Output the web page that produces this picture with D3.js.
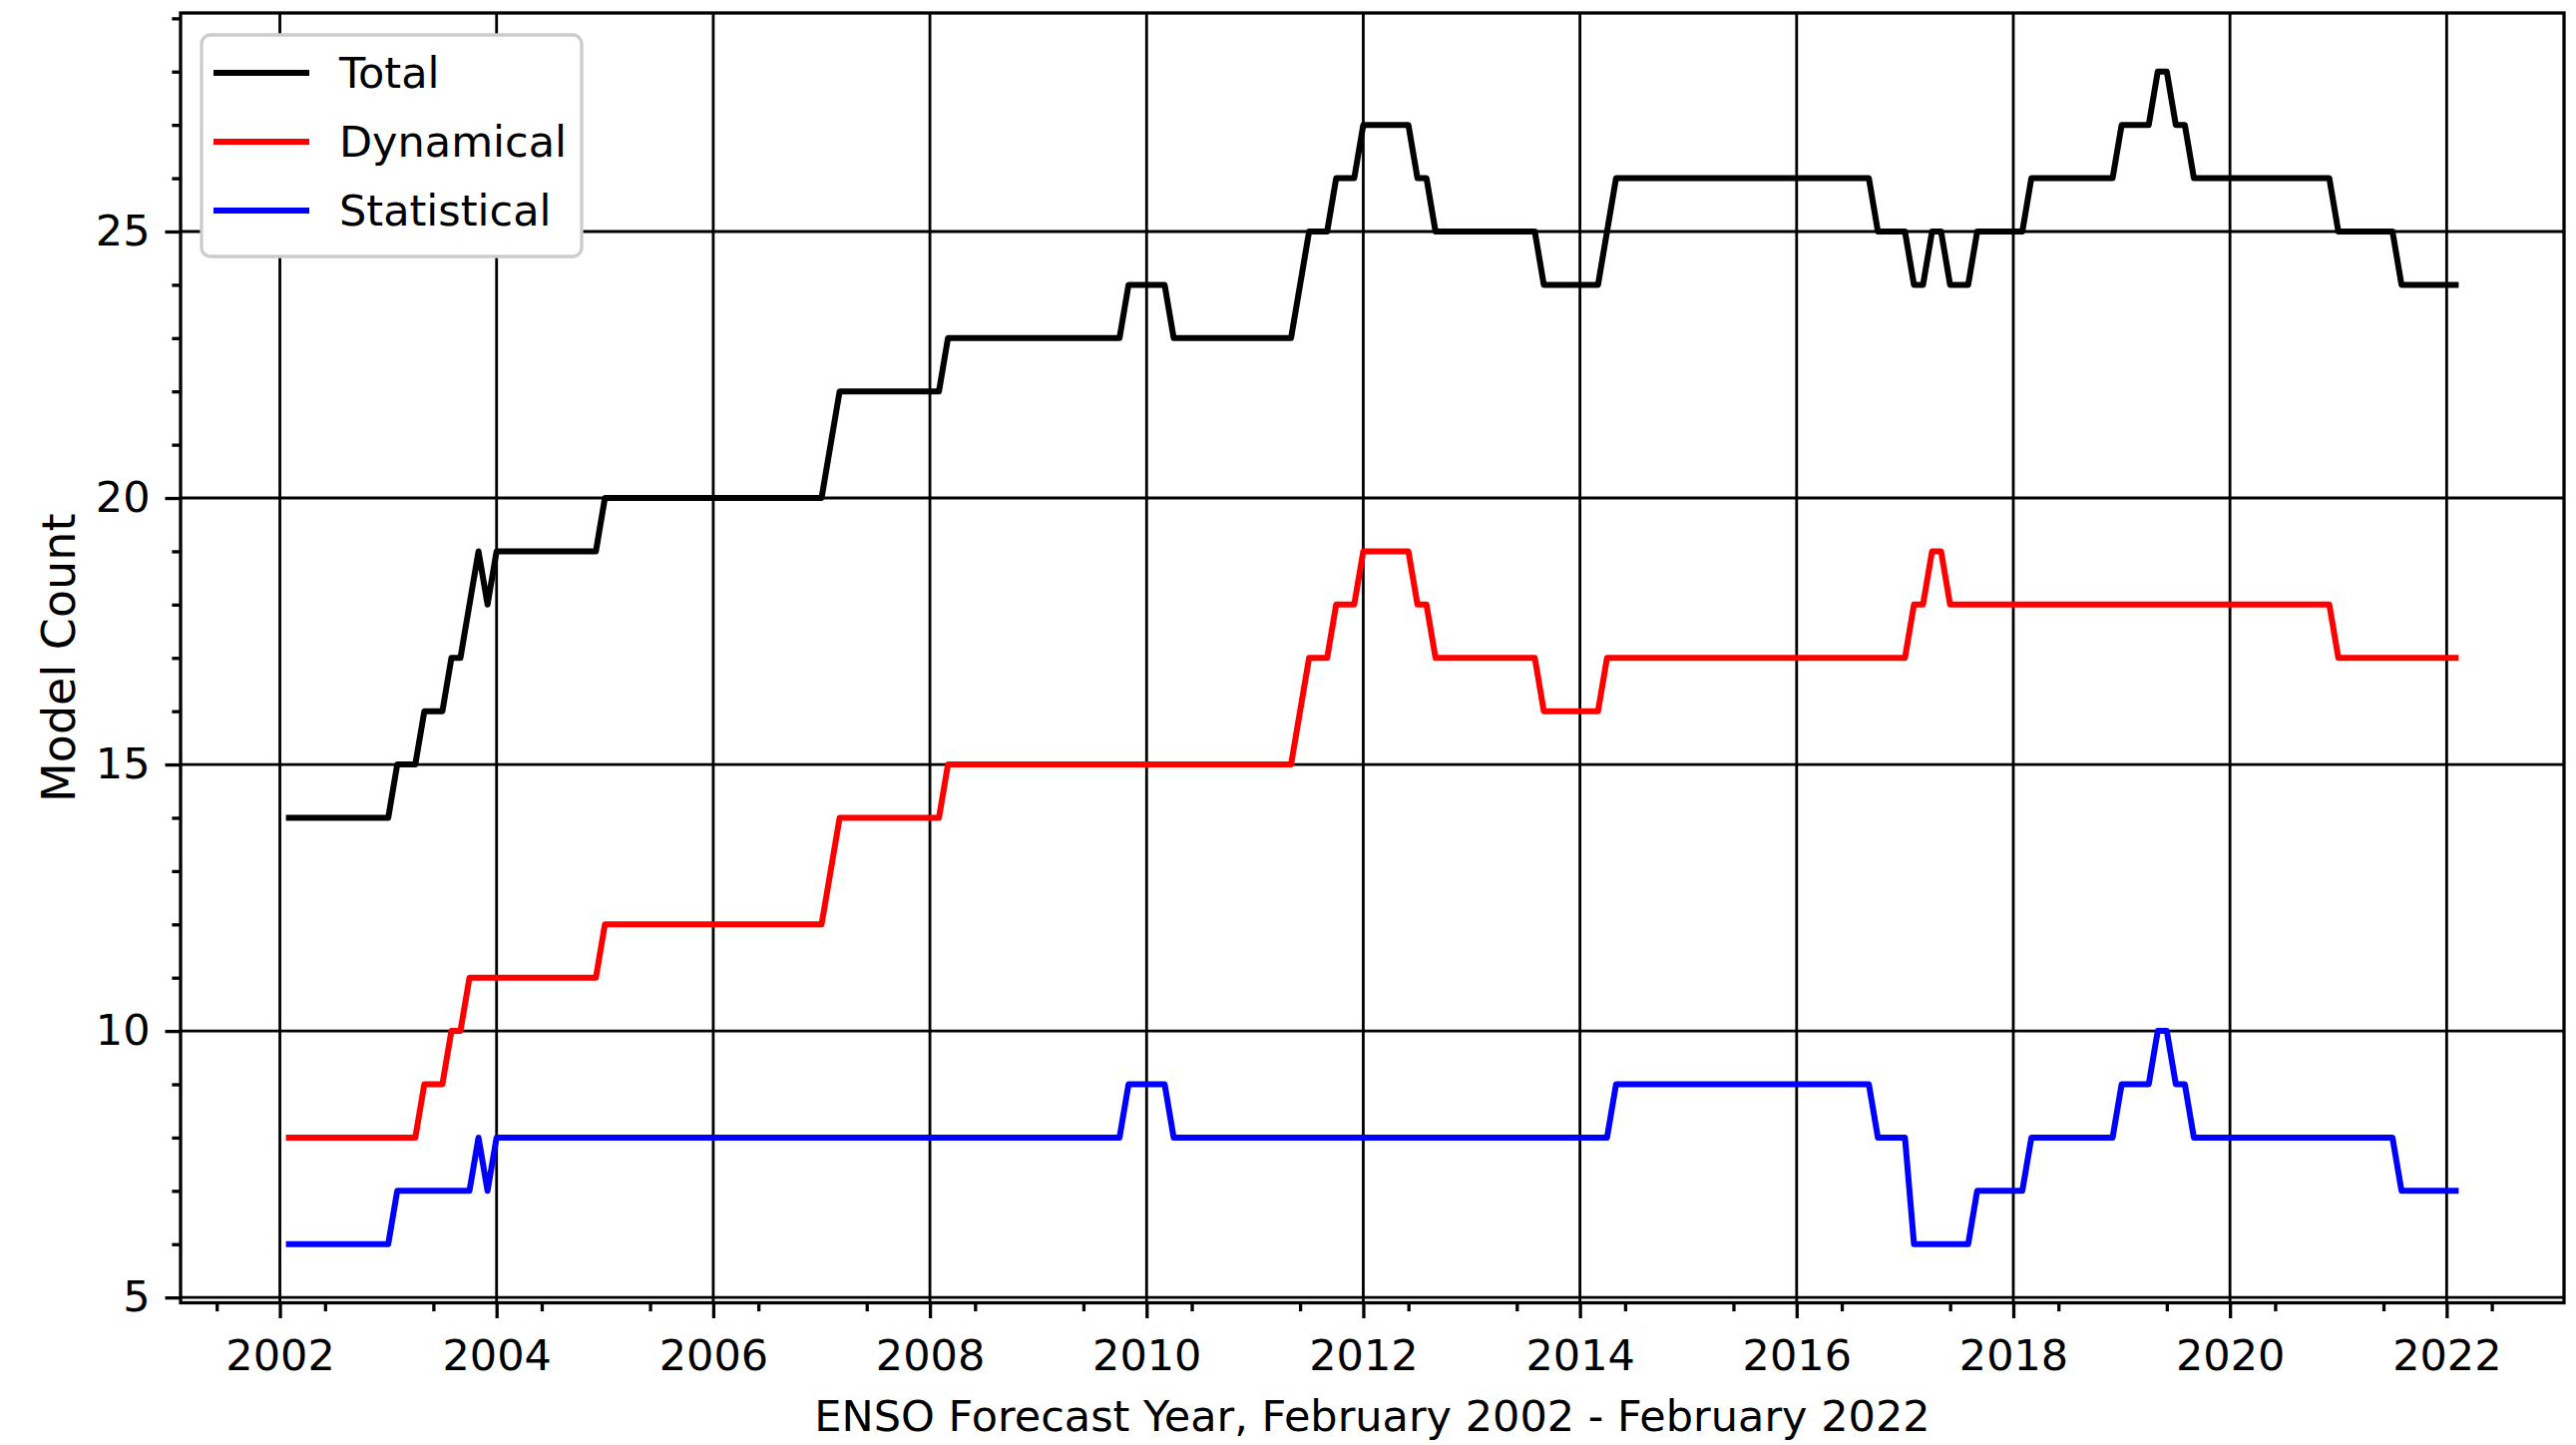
<!DOCTYPE html>
<html>
<head>
<meta charset="utf-8">
<script src="https://cdn.jsdelivr.net/npm/d3@7"></script>
<style>
html, body { margin: 0; padding: 0; background: #ffffff; }
svg { display: block; }
text { font-family: "DejaVu Sans", sans-serif; fill: #000; }
</style>
</head>
<body>
<svg id="chart" width="2582" height="1448"></svg>
<script>
// ---- Data (monthly, February 2002 - February 2022) ----
const startYear = 2002;
const startMonth = 2; // February

const total = [
  14,14,14,14,14,14,14,14,14,14,14,
  14,15,15,15,16,16,16,17,17,18,19,18,
  19,19,19,19,19,19,19,19,19,19,19,19,
  20,20,20,20,20,20,20,20,20,20,20,20,
  20,20,20,20,20,20,20,20,20,20,20,20,
  20,21,22,22,22,22,22,22,22,22,22,22,
  22,22,23,23,23,23,23,23,23,23,23,23,
  23,23,23,23,23,23,23,23,23,23,24,24,
  24,24,24,23,23,23,23,23,23,23,23,23,
  23,23,23,23,23,24,25,25,25,26,26,26,
  27,27,27,27,27,27,26,26,25,25,25,25,
  25,25,25,25,25,25,25,25,24,24,24,24,
  24,24,24,25,26,26,26,26,26,26,26,26,
  26,26,26,26,26,26,26,26,26,26,26,26,
  26,26,26,26,26,26,26,26,26,25,25,25,
  25,24,24,25,25,24,24,24,25,25,25,25,
  25,25,26,26,26,26,26,26,26,26,26,26,
  27,27,27,27,28,28,27,27,26,26,26,26,
  26,26,26,26,26,26,26,26,26,26,26,26,
  25,25,25,25,25,25,25,24,24,24,24,24,
  24,24
];

const dynamical = [
  8,8,8,8,8,8,8,8,8,8,8,
  8,8,8,8,9,9,9,10,10,11,11,11,
  11,11,11,11,11,11,11,11,11,11,11,11,
  12,12,12,12,12,12,12,12,12,12,12,12,
  12,12,12,12,12,12,12,12,12,12,12,12,
  12,13,14,14,14,14,14,14,14,14,14,14,
  14,14,15,15,15,15,15,15,15,15,15,15,
  15,15,15,15,15,15,15,15,15,15,15,15,
  15,15,15,15,15,15,15,15,15,15,15,15,
  15,15,15,15,15,16,17,17,17,18,18,18,
  19,19,19,19,19,19,18,18,17,17,17,17,
  17,17,17,17,17,17,17,17,16,16,16,16,
  16,16,16,17,17,17,17,17,17,17,17,17,
  17,17,17,17,17,17,17,17,17,17,17,17,
  17,17,17,17,17,17,17,17,17,17,17,17,
  17,18,18,19,19,18,18,18,18,18,18,18,
  18,18,18,18,18,18,18,18,18,18,18,18,
  18,18,18,18,18,18,18,18,18,18,18,18,
  18,18,18,18,18,18,18,18,18,18,18,18,
  17,17,17,17,17,17,17,17,17,17,17,17,
  17,17
];

const statistical = [
  6,6,6,6,6,6,6,6,6,6,6,
  6,7,7,7,7,7,7,7,7,7,8,7,
  8,8,8,8,8,8,8,8,8,8,8,8,
  8,8,8,8,8,8,8,8,8,8,8,8,
  8,8,8,8,8,8,8,8,8,8,8,8,
  8,8,8,8,8,8,8,8,8,8,8,8,
  8,8,8,8,8,8,8,8,8,8,8,8,
  8,8,8,8,8,8,8,8,8,8,9,9,
  9,9,9,8,8,8,8,8,8,8,8,8,
  8,8,8,8,8,8,8,8,8,8,8,8,
  8,8,8,8,8,8,8,8,8,8,8,8,
  8,8,8,8,8,8,8,8,8,8,8,8,
  8,8,8,8,9,9,9,9,9,9,9,9,
  9,9,9,9,9,9,9,9,9,9,9,9,
  9,9,9,9,9,9,9,9,9,8,8,8,
  8,6,6,6,6,6,6,6,7,7,7,7,
  7,7,8,8,8,8,8,8,8,8,8,8,
  9,9,9,9,10,10,9,9,8,8,8,8,
  8,8,8,8,8,8,8,8,8,8,8,8,
  8,8,8,8,8,8,8,7,7,7,7,7,
  7,7
];

const seriesNames = ["Total", "Dynamical", "Statistical"];
const seriesColors = ["#000000", "#ff0000", "#0000ff"];
const xTickYears = [2002, 2004, 2006, 2008, 2010, 2012, 2014, 2016, 2018, 2020, 2022];
const xMinorTicks = [2001.4167, 2002.4167, 2003.4167, 2004.4167, 2005.4167, 2006.4167, 2007.4167,
  2008.4167, 2009.4167, 2010.4167, 2011.4167, 2012.4167, 2013.4167, 2014.4167, 2015.4167,
  2016.4167, 2017.4167, 2018.4167, 2019.4167, 2020.4167, 2021.4167, 2022.4167];
const yTickValues = [5, 10, 15, 20, 25];
const yMinorTicks = [6,7,8,9,11,12,13,14,16,17,18,19,21,22,23,24,26,27,28,29];
const xLabel = "ENSO Forecast Year, February 2002 - February 2022";
const yLabel = "Model Count";

// ---- Layout ----
const plot = { left: 181, right: 2570, top: 13, bottom: 1305.5 };
const fontSize = 43;

const svg = d3.select("#chart");

const months = d3.range(total.length).map(i => startYear + (startMonth - 1) / 12 + i / 12);
const x0 = months[0], x1 = months[months.length - 1];
const xPad = (x1 - x0) * 0.05;
const yMin = d3.min(statistical), yMax = d3.max(total);
const yPad = (yMax - yMin) * 0.05;

const x = d3.scaleLinear().domain([x0 - xPad, x1 + xPad]).range([plot.left, plot.right]);
const y = d3.scaleLinear().domain([yMin - yPad, yMax + yPad]).range([plot.bottom, plot.top]);

// ---- Grid ----
const grid = svg.append("g").attr("class", "grid");
grid.selectAll("line.vg").data(xTickYears).enter().append("line")
  .attr("x1", d => x(d)).attr("x2", d => x(d))
  .attr("y1", plot.top).attr("y2", plot.bottom)
  .attr("stroke", "#000").attr("stroke-width", 2.8);
grid.selectAll("line.hg").data(yTickValues).enter().append("line")
  .attr("x1", plot.left).attr("x2", plot.right)
  .attr("y1", d => y(d)).attr("y2", d => y(d))
  .attr("stroke", "#000").attr("stroke-width", 2.8);

// ---- Lines ----
const seriesData = [total, dynamical, statistical];
const line = d3.line().x((d, i) => x(months[i])).y(d => y(d));
svg.append("g").selectAll("path").data(seriesData).enter().append("path")
  .attr("d", d => line(d))
  .attr("fill", "none")
  .attr("stroke", (d, i) => seriesColors[i])
  .attr("stroke-width", 6)
  .attr("stroke-linejoin", "round")
  .attr("stroke-linecap", "square");

// ---- Axes ----
function styleAxis(g) {
  g.select(".domain").remove();
  g.selectAll(".tick line").attr("stroke", "#000").attr("stroke-width", 3.3);
  g.selectAll(".tick text").style("font-size", fontSize + "px").style("font-family", "DejaVu Sans, sans-serif").attr("fill", "#000");
}

svg.append("g").attr("transform", `translate(0,${plot.bottom})`)
  .call(d3.axisBottom(x).tickValues(xMinorTicks).tickSize(8.6).tickFormat(""))
  .call(styleAxis);
svg.append("g").attr("transform", `translate(0,${plot.bottom})`)
  .call(d3.axisBottom(x).tickValues(xTickYears).tickSize(15.5).tickPadding(21).tickFormat(d3.format("d")))
  .call(styleAxis);

svg.append("g").attr("transform", `translate(${plot.left},0)`)
  .call(d3.axisLeft(y).tickValues(yMinorTicks).tickSize(8.6).tickFormat(""))
  .call(styleAxis);
svg.append("g").attr("transform", `translate(${plot.left},0)`)
  .call(d3.axisLeft(y).tickValues(yTickValues).tickSize(15.5).tickPadding(15).tickFormat(d3.format("d")))
  .call(styleAxis);

// ---- Spines ----
svg.append("rect")
  .attr("x", plot.left).attr("y", plot.top)
  .attr("width", plot.right - plot.left).attr("height", plot.bottom - plot.top)
  .attr("fill", "none").attr("stroke", "#000").attr("stroke-width", 3.3);

// ---- Axis labels ----
svg.append("text")
  .attr("x", (plot.left + plot.right) / 2).attr("y", 1434)
  .attr("text-anchor", "middle").style("font-size", fontSize + "px")
  .text(xLabel);
svg.append("text")
  .attr("transform", `translate(75,${(plot.top + plot.bottom) / 2}) rotate(-90)`)
  .attr("text-anchor", "middle").style("font-size", "46px")
  .text(yLabel);

// ---- Legend ----
const legend = svg.append("g");
legend.append("rect")
  .attr("x", 202).attr("y", 35).attr("width", 381).attr("height", 222)
  .attr("rx", 9).attr("ry", 9)
  .attr("fill", "#ffffff").attr("stroke", "#cccccc").attr("stroke-width", 3.3);
const rowY = [73, 142, 211];
seriesNames.forEach((name, i) => {
  legend.append("line")
    .attr("x1", 217).attr("x2", 307).attr("y1", rowY[i]).attr("y2", rowY[i])
    .attr("stroke", seriesColors[i]).attr("stroke-width", 6).attr("stroke-linecap", "square");
  legend.append("text")
    .attr("x", 340).attr("y", rowY[i]).attr("dy", "0.36em")
    .style("font-size", fontSize + "px")
    .text(name);
});
</script>
</body>
</html>
